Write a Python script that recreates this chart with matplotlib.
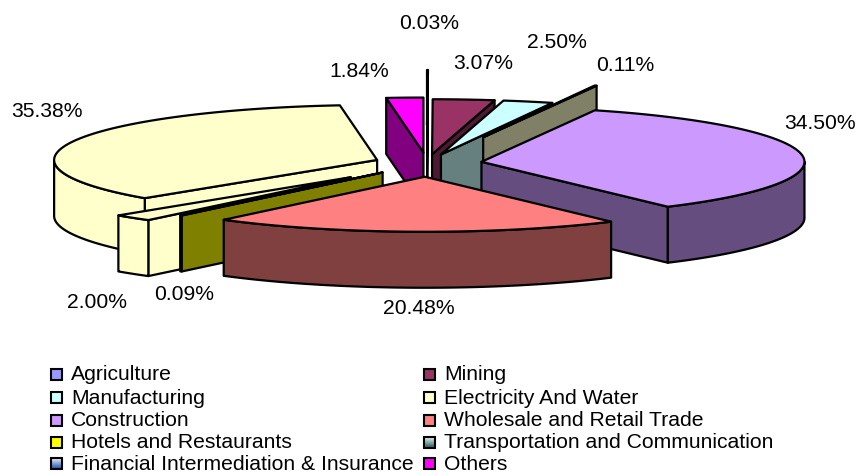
import numpy as np
import matplotlib as mpl
import matplotlib.pyplot as plt
from matplotlib.patches import Polygon, Rectangle
from matplotlib.colors import LinearSegmentedColormap

# data, clockwise from 12 o'clock

sectors = ['Agriculture', 'Mining', 'Manufacturing', 'Electricity And Water',
           'Construction', 'Wholesale and Retail Trade', 'Hotels and Restaurants',
           'Transportation and Communication', 'Financial Intermediation & Insurance', 'Others']
shares = [0.03, 3.07, 2.50, 0.11, 34.50, 20.48, 0.09, 2.00, 35.38, 1.84]
share_labels = ['0.03%', '3.07%', '2.50%', '0.11%', '34.50%', '20.48%', '0.09%', '2.00%', '35.38%', '1.84%']

# look of the slices

explode = [0.69, 0.16, 0.16, 0.50, 0.17, 0.25, 0.22, 0.35, 0.164, 0.19]
top_col = ['#9999FF', '#993366', '#CCFFFF', '#FFFFCC', '#CC99FF', '#FF8080', '#FFFF00', '#FFFFCC', '#FFFFCC', '#FF00FF']
side_col = ['#4D4D80', '#4D1933', '#668080', '#808066', '#664D80', '#804040', '#808000', '#FFFFCC', '#FFFFCC', '#800080']
draw_order = [0, 9, 1, 2, 3, 4, 8, 7, 6, 5]

label_x = [429, 483, 557, 625, 820, 419, 184, 97, 47, 359]
label_y = [23, 63, 42, 65, 123, 309, 294, 303, 111, 71]

cx, cy = 427, 163
rx, ry = 323, 55
depth = 56

plt.rcParams['font.family'] = ['Liberation Sans', 'DejaVu Sans']

fig = plt.figure(figsize=(8.58, 4.74), dpi=100)
ax = fig.add_axes([0, 0, 1, 1])
ax.set_xlim(0, 858)
ax.set_ylim(474, 0)
ax.axis('off')

edges = np.concatenate(([0], np.cumsum(shares))) / np.sum(shares) * 2 * np.pi


def rim(a0, b0, t):
    return np.column_stack((a0 + rx * np.sin(t), b0 - ry * np.cos(t)))


def face(pts):
    # top outline pushed down by the pie depth
    low = pts[::-1] + [0, depth]
    return np.vstack((pts, low))


lw = 1.6
for i in draw_order:
    t0, t1 = edges[i], edges[i + 1]
    mid = (t0 + t1) / 2
    ax0 = cx + explode[i] * rx * np.sin(mid)
    ay0 = cy - explode[i] * ry * np.cos(mid)
    apex = np.array([[ax0, ay0]])

    # cut faces turned to the viewer
    if np.sin(t0) < 0:
        ax.add_patch(Polygon(face(np.vstack((apex, rim(ax0, ay0, np.array([t0]))))),
                             fc=side_col[i], ec='k', lw=lw, joinstyle='round'))
    if np.sin(t1) > 0:
        ax.add_patch(Polygon(face(np.vstack((apex, rim(ax0, ay0, np.array([t1]))))),
                             fc=side_col[i], ec='k', lw=lw, joinstyle='round'))

    # outer wall, front half only
    w0, w1 = max(t0, np.pi / 2), min(t1, 3 * np.pi / 2)
    if w1 > w0:
        ax.add_patch(Polygon(face(rim(ax0, ay0, np.linspace(w0, w1, 80))),
                             fc=side_col[i], ec='k', lw=lw, joinstyle='round'))

    # top
    ax.add_patch(Polygon(np.vstack((apex, rim(ax0, ay0, np.linspace(t0, t1, 120)))),
                         fc=top_col[i], ec='k', lw=lw, joinstyle='round'))

for i in range(len(shares)):
    ax.text(label_x[i], label_y[i], share_labels[i], fontsize=15.2, ha='center', va='center', color='k')

# legend, filled row by row in two columns

legend_rows = [374, 397, 420, 442, 463]
legend_cols = [51, 424]
grads = {7: ['#FFFFFF', '#336666'], 8: ['#FFFFFF', '#2F5FB0']}
for i, name in enumerate(sectors):
    x0 = legend_cols[i % 2]
    y0 = legend_rows[i // 2]
    if i in grads:
        cmap = LinearSegmentedColormap.from_list('g', grads[i])
        ax.imshow(np.linspace(0, 1, 32).reshape(-1, 1), cmap=cmap, aspect='auto',
                  extent=(x0, x0 + 11, y0 + 5.5, y0 - 5.5), zorder=3)
        ax.add_patch(Rectangle((x0, y0 - 5.5), 11, 11, fc='none', ec='k', lw=1.5, zorder=4))
    else:
        ax.add_patch(Rectangle((x0, y0 - 5.5), 11, 11, fc=top_col[i], ec='k', lw=1.5, zorder=4))
    ax.text(x0 + 20, y0 + 1, name, fontsize=15.2, ha='left', va='center', color='k')

ax.set_xlim(0, 858)
ax.set_ylim(474, 0)
fig.savefig('out.png', dpi=100)
